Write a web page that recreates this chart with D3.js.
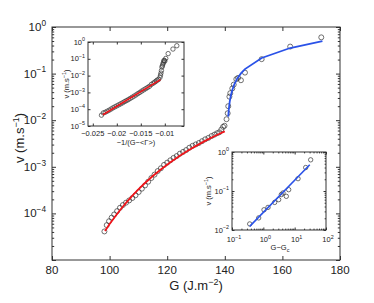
<!DOCTYPE html>
<html>
<head>
<meta charset="utf-8">
<script src="https://cdn.jsdelivr.net/npm/d3@7"></script>
<style>
body { margin: 0; background: #fff; }
text { font-family: "Liberation Sans", Arial, sans-serif; fill: #222; }
</style>
</head>
<body>
<div id="vis"></div>
<script>
// main data: crack speed v vs energy release rate G
const G_PTS = [98.2, 99.0, 99.8, 100.7, 101.6, 102.6, 103.6, 104.6, 105.7, 106.8, 107.9, 109.0, 110.1, 111.2,
  112.3, 113.4, 114.5, 115.6, 116.7, 117.8, 118.9, 120.0, 121.1, 122.2, 123.3, 124.4, 125.5, 126.6, 127.7, 128.8,
  129.9, 131.0, 132.1, 133.2, 134.3, 135.4, 136.4, 137.3, 138.1, 138.8, 139.4, 139.9,
  140.6, 141.0, 141.2, 141.6, 141.9, 142.6, 143.1, 144.0, 144.6, 145.6, 147.0, 152.8, 162.7, 173.5];
const V_PTS = [4.1e-5, 5.6e-5, 6.8e-5, 8.1e-5, 9.5e-5, 1.12e-4, 1.32e-4, 1.51e-4, 1.70e-4, 1.90e-4, 2.14e-4, 2.45e-4,
  2.88e-4, 3.39e-4, 3.98e-4, 4.79e-4, 5.75e-4, 6.8e-4, 8.1e-4, 9.3e-4, 1.10e-3, 1.23e-3, 1.38e-3, 1.55e-3, 1.70e-3,
  1.91e-3, 2.09e-3, 2.29e-3, 2.57e-3, 2.82e-3, 3.02e-3, 3.24e-3, 3.55e-3, 3.89e-3, 4.17e-3, 4.57e-3, 4.9e-3, 5.25e-3,
  5.5e-3, 6.3e-3, 7.2e-3, 7.6e-3,
  0.0105, 0.0141, 0.020, 0.032, 0.038, 0.048, 0.058, 0.076, 0.081, 0.072, 0.105, 0.204, 0.38, 0.60];

// slow branch fit (red) and fast branch fit (blue)
const RED_G = [98.4, 100, 102, 104, 106, 108, 110, 112, 115, 118, 121, 124, 127, 130, 133, 136, 138, 140];
const RED_V = [4.2e-5, 5.9e-5, 8.7e-5, 1.26e-4, 1.77e-4, 2.44e-4, 3.27e-4, 4.33e-4, 6.35e-4, 9.0e-4, 1.24e-3,
  1.67e-3, 2.19e-3, 2.81e-3, 3.55e-3, 4.41e-3, 5.06e-3, 5.75e-3];
const BLUE_G = [141.2, 141.4, 141.7, 142.1, 142.6, 143.3, 144.3, 145.6, 147.0, 152.8, 162.7, 173.9];
const BLUE_V = [0.0119, 0.0173, 0.0247, 0.0339, 0.0446, 0.0588, 0.0779, 0.101, 0.125, 0.216, 0.354, 0.496];

// inset 1: v vs -1/(G-<Gamma>)
const IN1_X = [-0.0232, -0.0228, -0.0224, -0.0220, -0.0216, -0.0212, -0.0208, -0.0204, -0.0200, -0.0196, -0.0192,
  -0.0188, -0.0184, -0.0180, -0.0176, -0.0172, -0.0168, -0.0164, -0.0160, -0.0156, -0.0152, -0.0148, -0.0144,
  -0.0140, -0.0136, -0.0132, -0.0128, -0.0124, -0.0121, -0.0118, -0.0116,
  -0.0113, -0.0110, -0.0109, -0.0108, -0.0107, -0.0106, -0.0105, -0.0104, -0.0103, -0.0102, -0.0101, -0.0100,
  -0.0098, -0.0093, -0.0083, -0.0075];
const IN1_V = [4.4e-5, 6.0e-5, 6.6e-5, 7.6e-5, 8.7e-5, 1.02e-4, 1.20e-4, 1.38e-4, 1.58e-4, 1.82e-4, 2.09e-4,
  2.40e-4, 2.82e-4, 3.24e-4, 3.72e-4, 4.37e-4, 5.13e-4, 6.03e-4, 7.08e-4, 8.5e-4, 1.0e-3, 1.20e-3, 1.41e-3,
  1.66e-3, 1.95e-3, 2.29e-3, 3.0e-3, 3.55e-3, 4.1e-3, 4.7e-3, 5.4e-3,
  5.9e-3, 7.9e-3, 0.0105, 0.0141, 0.020, 0.032, 0.038, 0.048, 0.058, 0.076, 0.081, 0.072,
  0.105, 0.204, 0.38, 0.60];
const IN1_FIT_X = [-0.0229, -0.0109];
const IN1_FIT_V = [4.7e-5, 5.75e-3];

// inset 2: v vs G - Gc
const IN2_X = [0.367, 0.71, 1.05, 1.41, 2.30, 3.09, 3.75, 4.25, 5.41, 6.45, 12.8, 22.5, 32.4];
const IN2_V = [0.0143, 0.0204, 0.033, 0.038, 0.051, 0.060, 0.081, 0.089, 0.073, 0.108, 0.207, 0.40, 0.63];
const IN2_FIT_X = [0.367, 30.3];
const IN2_FIT_V = [0.0124, 0.47];

// ticks
const MAIN_X_TICKS = [80, 100, 120, 140, 160, 180];
const MAIN_Y_EXP = [-4, -3, -2, -1, 0];
const IN1_X_TICKS = [-0.025, -0.02, -0.015, -0.01];
const IN1_X_LABELS = ['\u22120.025', '\u22120.02', '\u22120.015', '\u22120.01'];
const IN1_Y_EXP = [-5, -4, -3, -2, -1, 0];
const IN2_X_EXP = [-1, 0, 1, 2];
const IN2_Y_EXP = [-2, -1, 0];

const FRAME_WIDTH = 374;
const FRAME_HEIGHT = 303;
const AXIS_COL = '#333';
const DOT_COL = '#333';
const RED = '#f0141a';
const BLUE = '#2a52e8';

const svg = d3.select('#vis').append('svg')
  .attr('width', FRAME_WIDTH)
  .attr('height', FRAME_HEIGHT);

function expStr(e) {
  return e < 0 ? '\u2212' + Math.abs(e) : String(e);
}

// "10^e" label, base and raised exponent
function powLabel(g, x, y, e, size, anchor) {
  const t = g.append('text')
    .attr('x', x).attr('y', y)
    .attr('font-size', size)
    .attr('text-anchor', anchor);
  t.append('tspan').text('10');
  t.append('tspan').attr('dy', -size * 0.45).attr('font-size', size * 0.72).text(expStr(e));
}

// minor log ticks 2..9 between decades
function logMinor(lo, hi) {
  const out = [];
  for (let e = lo; e < hi; e++) {
    for (let k = 2; k <= 9; k++) out.push(k * Math.pow(10, e));
  }
  return out;
}

// box with inward ticks on all four sides
function box(g, X, Y, xMajor, yMajor, xMinor, yMinor, len) {
  const [x0, x1] = X.range();
  const [y1, y0] = Y.range();
  g.append('rect')
    .attr('x', x0).attr('y', y0)
    .attr('width', x1 - x0).attr('height', y1 - y0)
    .attr('fill', '#fff');
  const axes = [
    [d3.axisBottom(X), xMajor, xMinor, y1],
    [d3.axisTop(X), xMajor, xMinor, y0]
  ];
  axes.forEach(([ax, maj, mn, pos]) => {
    g.append('g').attr('transform', 'translate(0,' + pos + ')')
      .call(ax.tickValues(maj).tickSize(-len).tickFormat(''))
      .call(s => s.select('.domain').remove())
      .selectAll('line').attr('stroke', AXIS_COL);
    if (mn.length) {
      g.append('g').attr('transform', 'translate(0,' + pos + ')')
        .call(ax.tickValues(mn).tickSize(-len * 0.55).tickFormat(''))
        .call(s => s.select('.domain').remove())
        .selectAll('line').attr('stroke', AXIS_COL);
    }
  });
  const vaxes = [
    [d3.axisLeft(Y), x0],
    [d3.axisRight(Y), x1]
  ];
  vaxes.forEach(([ax, pos]) => {
    g.append('g').attr('transform', 'translate(' + pos + ',0)')
      .call(ax.tickValues(yMajor).tickSize(-len).tickFormat(''))
      .call(s => s.select('.domain').remove())
      .selectAll('line').attr('stroke', AXIS_COL);
    if (yMinor.length) {
      g.append('g').attr('transform', 'translate(' + pos + ',0)')
        .call(ax.tickValues(yMinor).tickSize(-len * 0.55).tickFormat(''))
        .call(s => s.select('.domain').remove())
        .selectAll('line').attr('stroke', AXIS_COL);
    }
  });
  g.append('rect')
    .attr('x', x0).attr('y', y0)
    .attr('width', x1 - x0).attr('height', y1 - y0)
    .attr('fill', 'none').attr('stroke', AXIS_COL).attr('stroke-width', 1);
}

function dots(g, X, Y, xs, vs, r) {
  g.selectAll(null)
    .data(xs.map((d, i) => [d, vs[i]]))
    .enter()
    .append('circle')
    .attr('cx', d => X(d[0]))
    .attr('cy', d => Y(d[1]))
    .attr('r', r)
    .attr('fill', 'none')
    .attr('stroke', DOT_COL)
    .attr('stroke-width', 0.7);
}

function curve(g, X, Y, xs, vs, col, w) {
  g.append('path')
    .datum(xs.map((d, i) => [d, vs[i]]))
    .attr('d', d3.line().x(d => X(d[0])).y(d => Y(d[1])))
    .attr('fill', 'none')
    .attr('stroke', col)
    .attr('stroke-width', w);
}

// ---------- main plot ----------
const MAIN = {left: 52, right: 340, top: 27, bottom: 260};
const X_MAIN = d3.scaleLinear().domain([80, 180]).range([MAIN.left, MAIN.right]);
const Y_MAIN = d3.scaleLog().domain([1e-5, 1]).range([MAIN.bottom, MAIN.top]);

const gMain = svg.append('g');
box(gMain, X_MAIN, Y_MAIN, MAIN_X_TICKS, MAIN_Y_EXP.map(e => Math.pow(10, e)).concat([1e-5]),
  [], logMinor(-5, 0), 4);

MAIN_X_TICKS.forEach(t => {
  gMain.append('text')
    .attr('x', X_MAIN(t)).attr('y', 274)
    .attr('font-size', 11.5).attr('text-anchor', 'middle')
    .text(t);
});
MAIN_Y_EXP.forEach(e => {
  powLabel(gMain, 46, Y_MAIN(Math.pow(10, e)) + 4, e, 11.5, 'end');
});

const xl = gMain.append('text')
  .attr('x', (MAIN.left + MAIN.right) / 2).attr('y', 290)
  .attr('font-size', 13).attr('text-anchor', 'middle');
xl.append('tspan').text('G (J.m');
xl.append('tspan').attr('dy', -5).attr('font-size', 9).text('\u22122');
xl.append('tspan').attr('dy', 5).text(')');

const yl = gMain.append('text')
  .attr('transform', 'translate(24,' + 138 + ') rotate(-90)')
  .attr('font-size', 13).attr('text-anchor', 'middle');
yl.append('tspan').text('v (m.s');
yl.append('tspan').attr('dy', -5).attr('font-size', 9).text('\u22121');
yl.append('tspan').attr('dy', 5).text(')');

dots(gMain, X_MAIN, Y_MAIN, G_PTS, V_PTS, 2.5);
curve(gMain, X_MAIN, Y_MAIN, RED_G, RED_V, RED, 1.8);
curve(gMain, X_MAIN, Y_MAIN, BLUE_G, BLUE_V, BLUE, 1.8);

// ---------- inset 1 ----------
const X_IN1 = d3.scaleLinear().domain([-0.026, -0.006]).range([88, 184]);
const Y_IN1 = d3.scaleLog().domain([1e-5, 1]).range([126, 42]);
const gIn1 = svg.append('g');
box(gIn1, X_IN1, Y_IN1, IN1_X_TICKS, IN1_Y_EXP.map(e => Math.pow(10, e)), [], [], 2.5);

IN1_X_TICKS.forEach((t, i) => {
  gIn1.append('text')
    .attr('x', X_IN1(t)).attr('y', 136)
    .attr('font-size', 7.5).attr('text-anchor', 'middle')
    .text(IN1_X_LABELS[i]);
});
IN1_Y_EXP.forEach(e => {
  powLabel(gIn1, 85, Y_IN1(Math.pow(10, e)) + 2.5, e, 7.5, 'end');
});
gIn1.append('text')
  .attr('x', 136).attr('y', 145)
  .attr('font-size', 7.5).attr('text-anchor', 'middle')
  .text('\u22121/(G\u2212<\u0393>)');
const yl1 = gIn1.append('text')
  .attr('transform', 'translate(69,84) rotate(-90)')
  .attr('font-size', 7.5).attr('text-anchor', 'middle');
yl1.append('tspan').text('v (m.s');
yl1.append('tspan').attr('dy', -3).attr('font-size', 5.5).text('\u22121');
yl1.append('tspan').attr('dy', 3).text(')');

dots(gIn1, X_IN1, Y_IN1, IN1_X, IN1_V, 2.2);
curve(gIn1, X_IN1, Y_IN1, IN1_FIT_X, IN1_FIT_V, RED, 1.6);

// ---------- inset 2 ----------
const X_IN2 = d3.scaleLog().domain([0.1, 100]).range([232, 326]);
const Y_IN2 = d3.scaleLog().domain([0.01, 1]).range([230, 152]);
const gIn2 = svg.append('g');
box(gIn2, X_IN2, Y_IN2, IN2_X_EXP.map(e => Math.pow(10, e)), IN2_Y_EXP.map(e => Math.pow(10, e)),
  logMinor(-1, 2), logMinor(-2, 0), 2.5);

IN2_X_EXP.forEach(e => {
  powLabel(gIn2, X_IN2(Math.pow(10, e)) + 2, 242, e, 7.5, 'middle');
});
IN2_Y_EXP.forEach(e => {
  powLabel(gIn2, 229, Y_IN2(Math.pow(10, e)) + 2.5, e, 7.5, 'end');
});
const xl2 = gIn2.append('text')
  .attr('x', 280).attr('y', 250)
  .attr('font-size', 7.5).attr('text-anchor', 'middle');
xl2.append('tspan').text('G\u2212G');
xl2.append('tspan').attr('dy', 2).attr('font-size', 5.5).text('c');
const yl2 = gIn2.append('text')
  .attr('transform', 'translate(211,191) rotate(-90)')
  .attr('font-size', 7.5).attr('text-anchor', 'middle');
yl2.append('tspan').text('v (m.s');
yl2.append('tspan').attr('dy', -3).attr('font-size', 5.5).text('\u22121');
yl2.append('tspan').attr('dy', 3).text(')');

dots(gIn2, X_IN2, Y_IN2, IN2_X, IN2_V, 2.2);
curve(gIn2, X_IN2, Y_IN2, IN2_FIT_X, IN2_FIT_V, BLUE, 1.6);
</script>
</body>
</html>
